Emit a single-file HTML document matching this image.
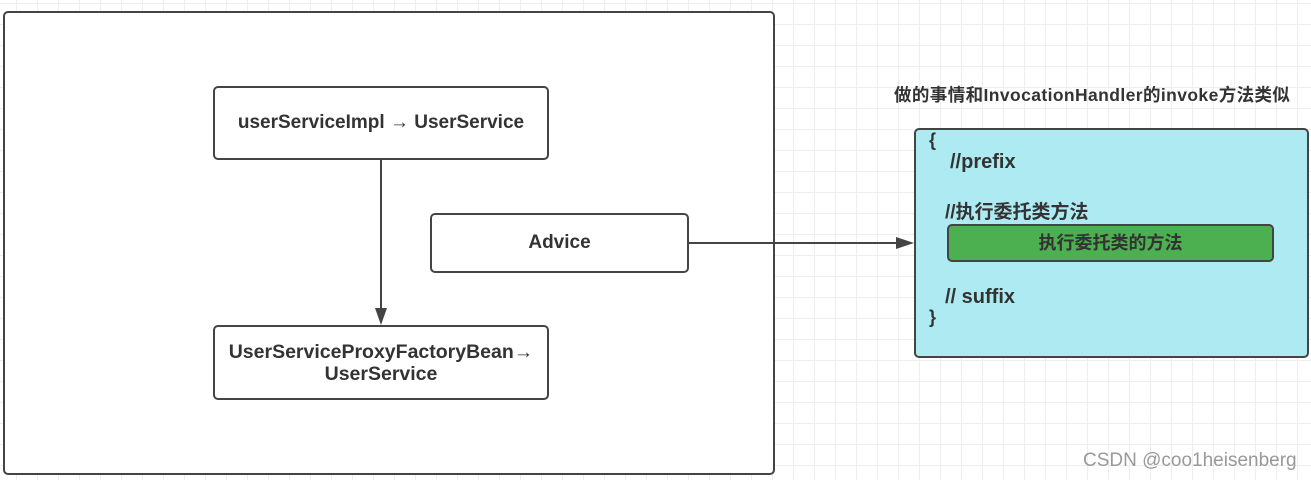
<!DOCTYPE html>
<html><head><meta charset="utf-8"><style>
body{margin:0;width:1311px;height:480px;overflow:hidden;position:relative;font-family:"Liberation Sans","Noto Sans CJK SC",sans-serif;font-weight:bold;color:#333;
background-color:#fff;background-image:linear-gradient(#eee 1px,transparent 1px),linear-gradient(90deg,#eee 1px,transparent 1px);background-size:21px 21px;background-position:-5px 3px}
.b{position:absolute;border:2px solid #444;border-radius:5px;background:#fff;box-sizing:border-box;display:flex;align-items:center;justify-content:center;text-align:center;font-size:18.5px;line-height:22px}
.t{position:absolute;font-size:18px;white-space:nowrap}
</style></head><body>
<div class="b" style="left:3px;top:11px;width:772px;height:464px"></div>
<div class="b" style="left:213px;top:86px;width:336px;height:74px;font-size:19px">userServiceImpl → UserService</div>
<div class="b" style="left:430px;top:213px;width:259px;height:60px;font-size:19px">Advice</div>
<div class="b" style="left:213px;top:325px;width:336px;height:75px;font-size:19.5px">UserServiceProxyFactoryBean→<br>UserService</div>
<svg style="position:absolute;left:0;top:0" width="1311" height="480">
<line x1="381" y1="160" x2="381" y2="310" stroke="#444" stroke-width="2"/>
<polygon points="375,308 387,308 381,325" fill="#444"/>
<line x1="689" y1="243" x2="898" y2="243" stroke="#444" stroke-width="2"/>
<polygon points="896,237 896,249 914,243" fill="#444"/>
</svg>
<div class="t" style="left:894px;top:82px;font-size:17.5px;letter-spacing:0.4px">做的事情和InvocationHandler的invoke方法类似</div>
<div class="b" style="left:914px;top:128px;width:395px;height:230px;background:#aeeaf1"></div>
<div class="t" style="left:929px;top:130px">{</div>
<div class="t" style="left:950px;top:151px;font-size:20px">//prefix</div>
<div class="t" style="left:945px;top:197px;font-size:19px">//执行委托类方法</div>
<div class="b" style="left:947px;top:224px;width:327px;height:38px;background:#4caf50;font-size:18px">执行委托类的方法</div>
<div class="t" style="left:945px;top:286px;font-size:20px">// suffix</div>
<div class="t" style="left:929px;top:307px">}</div>
<div class="t" style="left:1083px;top:450px;font-weight:normal;color:#999;font-size:19px">CSDN @coo1heisenberg</div>
</body></html>
